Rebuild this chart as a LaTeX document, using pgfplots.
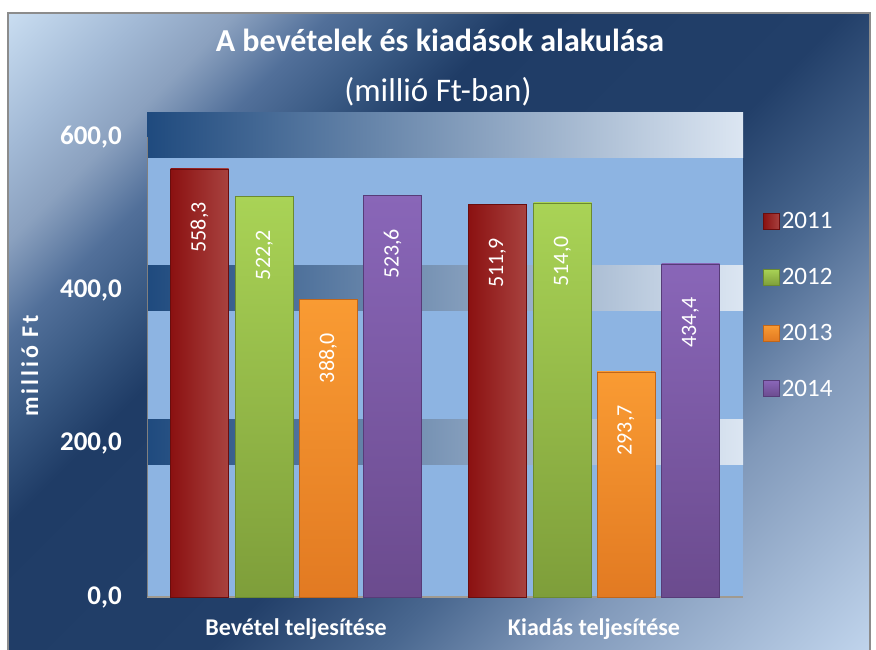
\documentclass[border=0pt]{standalone}
\usepackage{fontspec}
\setmainfont{Carlito}
\usepackage{pgfplots}
\pgfplotsset{compat=1.18}
\usepackage{pgfplotstable}

\definecolor{plotblue}{HTML}{8DB4E2}
\definecolor{bandL}{HTML}{1F4A7E}
\definecolor{bandR}{HTML}{DCE6F2}
\definecolor{framegray}{HTML}{8C8C8C}
\definecolor{bgA}{HTML}{CFE0F4}
\definecolor{bgB}{HTML}{C8DCF0}
\definecolor{bgC}{HTML}{A3BAD6}
\definecolor{bgD}{HTML}{8BA1BF}
\definecolor{bgE}{HTML}{52709A}
\definecolor{bgF}{HTML}{3A5A84}
\definecolor{bgG}{HTML}{1F3C66}
\definecolor{bgH}{HTML}{223F69}
\definecolor{bgI}{HTML}{4A6890}
\definecolor{bgJ}{HTML}{8098B9}
\definecolor{bgK}{HTML}{C0D4EC}
\definecolor{bgL}{HTML}{C8DBF0}
\definecolor{redL}{HTML}{8B1111}
\definecolor{redR}{HTML}{A8423F}
\definecolor{redD}{HTML}{6A0D0D}
\definecolor{grnT}{HTML}{A9D356}
\definecolor{grnB}{HTML}{7E9E3A}
\definecolor{grnD}{HTML}{6B8A30}
\definecolor{orgT}{HTML}{F99B33}
\definecolor{orgB}{HTML}{E27A22}
\definecolor{orgD}{HTML}{C0661A}
\definecolor{purT}{HTML}{8966B8}
\definecolor{purB}{HTML}{6B4B8E}
\definecolor{purD}{HTML}{573C78}
\definecolor{axgray}{HTML}{A09A90}

\pgfdeclarehorizontalshading{bgshade}{100bp}{color(0bp)=(bgA); color(14.6bp)=(bgA); color(19.2bp)=(bgB); color(24.5bp)=(bgC); color(28.4bp)=(bgD); color(32.3bp)=(bgE); color(35.9bp)=(bgF); color(40.1bp)=(bgG); color(53.5bp)=(bgH); color(60.9bp)=(bgI); color(67.7bp)=(bgJ); color(80.8bp)=(bgK); color(85.4bp)=(bgL); color(100bp)=(bgL)}

\pgfplotstableread{
x y2011 y2012 y2013 y2014
0 558.3 522.2 388.0 523.6
1 511.9 514.0 293.7 434.4
}\datatable

\pgfplotsset{
  barbase/.style={ybar, bar width=58pt, bar shift=#1, nodes near coords,
    every node near coord/.append style={xshift=#1, yshift=-30pt, rotate=90, anchor=east}},
  s2011/.style={barbase=-96.5pt, draw=redD, left color=redL, right color=redR},
  s2012/.style={barbase=-31.5pt, draw=grnD, top color=grnT, bottom color=grnB},
  s2013/.style={barbase=32pt, draw=orgD, top color=orgT, bottom color=orgB},
  s2014/.style={barbase=96.5pt, draw=purD, top color=purT, bottom color=purB},
  firstbar/.style={skip coords between index={1}{2}},
  secondbar/.style={skip coords between index={0}{1}, forget plot},
}

\begin{document}
\begin{tikzpicture}[x=1pt,y=1pt]
\begin{scope}
  \clip (8,-5) rectangle (870,637);
  \shade[shading=bgshade, shading angle=-45] (8,-115) rectangle (870,747);
\end{scope}
\draw[framegray, line width=1.5pt] (8,-5) rectangle (870,637);

% plot area background and bands
\fill[plotblue] (147,53) rectangle (743,537);
\shade[left color=bandL, right color=bandR] (147,492) rectangle (743,537);
\shade[left color=bandL, right color=bandR] (147,339) rectangle (743,384);
\shade[left color=bandL, right color=bandR] (147,185) rectangle (743,230);

% titles
\node[text=white, font=\bfseries\fontsize{32}{34}\selectfont, anchor=base] at (440,598) {A bevételek és kiadások alakulása};
\node[text=white, font=\fontsize{33}{35}\selectfont, anchor=base] at (438,548) {(millió Ft-ban)};
\node[text=white, font=\bfseries\fontsize{24}{26}\selectfont\addfontfeature{LetterSpace=12}, rotate=90, anchor=base] at (38,284) {millió Ft};

\begin{axis}[
  at={(147pt,53pt)}, anchor=south west,
  scale only axis, width=596pt, height=484pt,
  xmin=-0.5, xmax=1.5, ymin=0, ymax=631,
  axis line style={draw=none},
  xtick={0,1},
  xticklabels={Bevétel teljesítése, Kiadás teljesítése},
  ytick={0,200,400,600},
  major tick length=0pt,
  clip=false,
  yticklabel style={text=white, font=\bfseries\fontsize{27}{27}\selectfont, inner sep=0pt, xshift=-25pt},
  xticklabel style={text=white, font=\bfseries\fontsize{24}{26}\selectfont, inner sep=0pt, yshift=-21pt},
  /pgf/number format/.cd, fixed, fixed zerofill, precision=1, use comma, assume math mode=true,
  /pgfplots/.cd,
  legend style={draw=none, fill=none, at={(axis description cs:1,0.603)}, anchor=west, xshift=20pt,
    font=\fontsize{25}{25}\selectfont, text=white, row sep=34pt, inner sep=0pt,
    /tikz/every even column/.append style={column sep=8pt}},
  legend cell align=left,
  legend image code/.code={\draw[#1, line width=0.6pt] (0pt,-8pt) rectangle (16pt,8pt);},
  every node near coord/.append style={text=white, font=\fontsize{22}{22}\selectfont},
]
\draw[axgray, line width=1.5pt] (axis cs:-0.5,0) -- (axis cs:1.5,0);
\draw[gray, line width=0.6pt] (axis cs:-0.5,0) -- (axis cs:-0.5,600);

\addplot[s2011, firstbar] table[x=x, y=y2011]{\datatable};
\addlegendentry{2011}
\addplot[s2012, firstbar] table[x=x, y=y2012]{\datatable};
\addlegendentry{2012}
\addplot[s2013, firstbar] table[x=x, y=y2013]{\datatable};
\addlegendentry{2013}
\addplot[s2014, firstbar] table[x=x, y=y2014]{\datatable};
\addlegendentry{2014}
\addplot[s2011, secondbar] table[x=x, y=y2011]{\datatable};
\addplot[s2012, secondbar] table[x=x, y=y2012]{\datatable};
\addplot[s2013, secondbar] table[x=x, y=y2013]{\datatable};
\addplot[s2014, secondbar] table[x=x, y=y2014]{\datatable};
\end{axis}
\pgfresetboundingbox
\path[use as bounding box] (0,0) rectangle (876,650);
\end{tikzpicture}
\end{document}
